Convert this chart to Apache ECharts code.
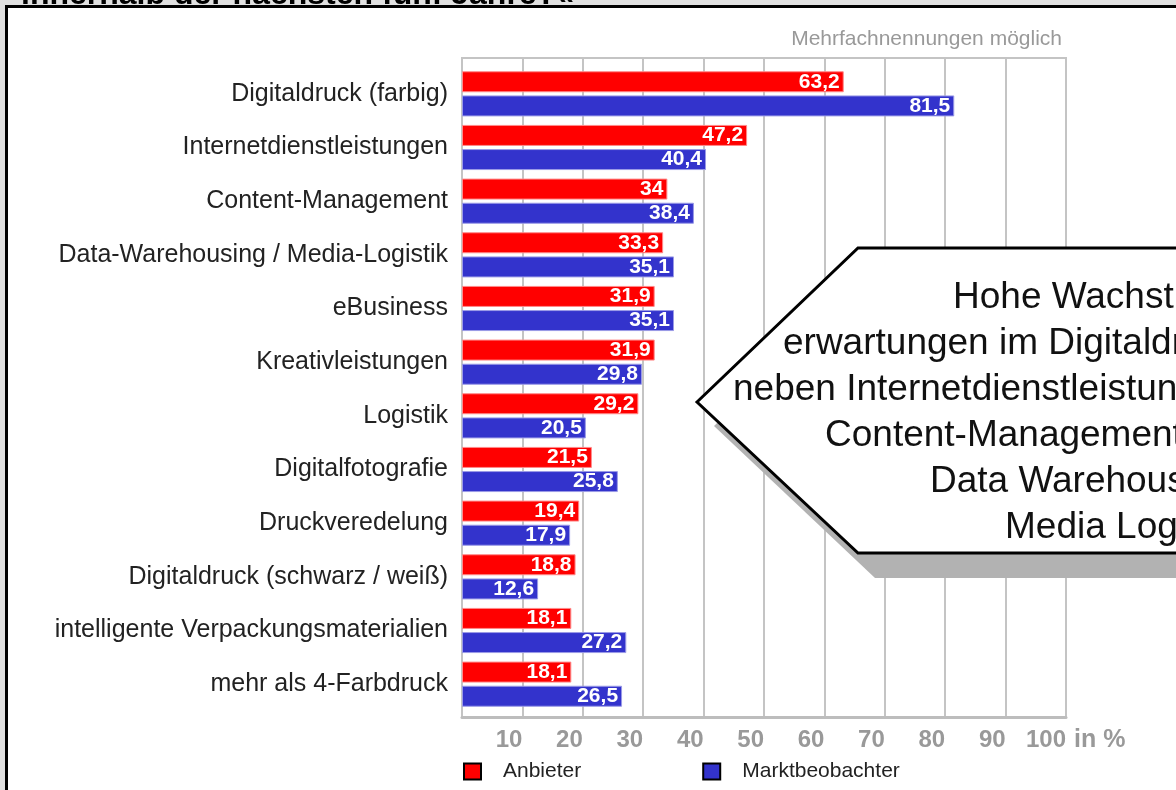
<!DOCTYPE html>
<html>
<head>
<meta charset="utf-8">
<script src="https://cdn.jsdelivr.net/npm/echarts@6/dist/echarts.min.js"></script>
<style>
html,body{margin:0;padding:0;background:#fff;}
#chart{width:1176px;height:790px;}
</style>
</head>
<body>
<div id="chart"></div>
<script>
const categories = [
  'Digitaldruck (farbig)',
  'Internetdienstleistungen',
  'Content-Management',
  'Data-Warehousing / Media-Logistik',
  'eBusiness',
  'Kreativleistungen',
  'Logistik',
  'Digitalfotografie',
  'Druckveredelung',
  'Digitaldruck (schwarz / weiß)',
  'intelligente Verpackungsmaterialien',
  'mehr als 4-Farbdruck'
];
const anbieter = [63.2, 47.2, 34, 33.3, 31.9, 31.9, 29.2, 21.5, 19.4, 18.8, 18.1, 18.1];
const marktbeobachter = [81.5, 40.4, 38.4, 35.1, 35.1, 29.8, 20.5, 25.8, 17.9, 12.6, 27.2, 26.5];
const seriesNames = ['Anbieter', 'Marktbeobachter'];
const tickLabels = ['', '10', '20', '30', '40', '50', '60', '70', '80', '90', '100'];
const axisUnit = 'in %';
const noteText = 'Mehrfachnennungen möglich';
const titleText = 'innerhalb der nächsten fünf Jahre?«';
const calloutLines = [
  'Hohe Wachstums-',
  'erwartungen im Digitaldruck',
  'neben Internetdienstleistungen,',
  'Content-Management und',
  'Data Warehousing /',
  'Media Logistik'
];

const FONT = "'Liberation Sans', Arial, Helvetica, sans-serif";
const chart = echarts.init(document.getElementById('chart'), null, {renderer: 'canvas'});

const calloutX = [953, 783, 733, 825, 930, 1005];
const calloutTexts = calloutLines.map((t, i) => ({
  type: 'text', z: 102,
  style: {x: calloutX[i], y: 298 + i * 46, text: t, fill: '#111', font: '37px ' + FONT, verticalAlign: 'middle', align: 'left'}
}));

const fmt = p => String(p.value).replace('.', ',');

const option = {
  backgroundColor: '#ffffff',
  animation: false,
  textStyle: {fontFamily: FONT},
  grid: [
    {left: 462, right: 110, top: 58, bottom: 73, show: true, borderColor: '#c4c4c4', borderWidth: 2, backgroundColor: 'transparent'},
    {left: 462, right: 110, top: 67, bottom: 79}
  ],
  legend: {
    data: seriesNames,
    left: 458, top: 756,
    icon: 'rect', itemWidth: 17, itemHeight: 16, itemGap: 121,
    itemStyle: {borderColor: '#000', borderWidth: 2},
    textStyle: {fontSize: 21, color: '#222', fontFamily: FONT, padding: [0, 0, 0, 17]}
  },
  xAxis: [
    {
      gridIndex: 0, type: 'value', min: 0, max: 100, interval: 10,
      splitLine: {show: true, lineStyle: {color: '#c4c4c4', width: 2}},
      axisLine: {show: true, lineStyle: {color: '#bdbdbd', width: 3}},
      axisTick: {show: false},
      axisLabel: {
        formatter: v => tickLabels[Math.round(v / 10)],
        align: 'right', margin: 11, color: '#999', fontWeight: 'bold', fontSize: 24, fontFamily: FONT, lineHeight: 24
      },
      name: axisUnit, nameLocation: 'end', nameGap: 8,
      nameTextStyle: {color: '#999', fontWeight: 'bold', fontSize: 25, fontFamily: FONT, verticalAlign: 'top', align: 'left', padding: [11, 0, 0, 0], lineHeight: 25}
    },
    {gridIndex: 1, type: 'value', min: 0, max: 100, show: false}
  ],
  yAxis: [
    {gridIndex: 0, type: 'category', data: categories, show: false},
    {
      gridIndex: 1, type: 'category', data: categories, inverse: true,
      axisLine: {show: false}, axisTick: {show: false},
      axisLabel: {margin: 14, color: '#222', fontSize: 25, fontFamily: FONT, padding: [5, 0, 0, 0]}
    }
  ],
  series: [
    {
      name: seriesNames[0], type: 'bar', xAxisIndex: 1, yAxisIndex: 1, data: anbieter,
      barWidth: 21, barGap: '15%',
      itemStyle: {color: '#ff0000', borderColor: '#ff8a8a', borderWidth: 1},
      label: {show: true, position: 'insideRight', distance: 4, formatter: fmt, color: '#fff', fontWeight: 'bold', fontSize: 21, fontFamily: FONT}
    },
    {
      name: seriesNames[1], type: 'bar', xAxisIndex: 1, yAxisIndex: 1, data: marktbeobachter,
      barWidth: 21, barGap: '15%',
      itemStyle: {color: '#3333cc', borderColor: '#9a9ae6', borderWidth: 1},
      label: {show: true, position: 'insideRight', distance: 4, formatter: fmt, color: '#fff', fontWeight: 'bold', fontSize: 21, fontFamily: FONT}
    }
  ],
  graphic: [
    {type: 'rect', z: 50, shape: {x: 0, y: 0, width: 1176, height: 6}, style: {fill: '#e0e0e0'}},
    {type: 'rect', z: 50, shape: {x: 0, y: 0, width: 6, height: 790}, style: {fill: '#e0e0e0'}},
    {type: 'polyline', z: 51, shape: {points: [[6.5, 792], [6.5, 6.5], [1180, 6.5]]}, style: {stroke: '#000', lineWidth: 3, fill: null}},
    {type: 'text', z: 52, style: {x: 21, y: -5, text: titleText, fill: '#000', font: 'bold 32px ' + FONT, verticalAlign: 'middle'}},
    {type: 'text', z: 52, style: {x: 1062, y: 39, text: noteText, fill: '#999', font: '21px ' + FONT, align: 'right', verticalAlign: 'middle'}},
    {type: 'polygon', z: 100, shape: {points: [[714, 426], [875, 272], [1200, 272], [1200, 578], [875, 578]]}, style: {fill: '#b2b2b2'}},
    {type: 'polygon', z: 101, shape: {points: [[697, 402], [858, 248], [1200, 248], [1200, 553], [858, 553]]}, style: {fill: '#fff', stroke: '#000', lineWidth: 3}},
    ...calloutTexts
  ]
};
chart.setOption(option);
</script>
</body>
</html>
